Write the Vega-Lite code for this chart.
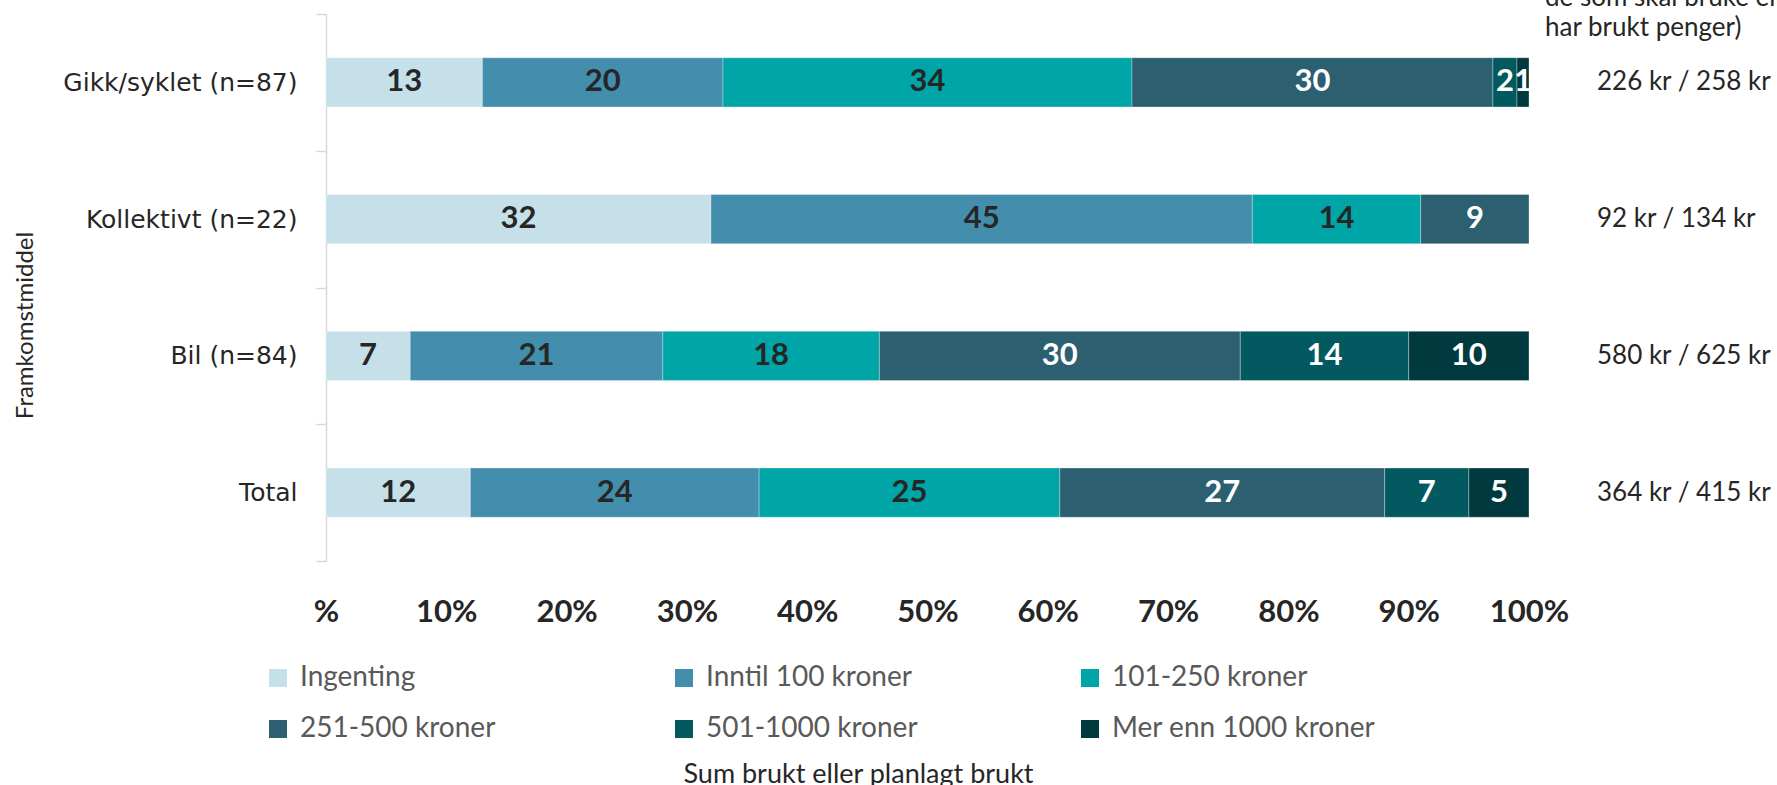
{
  "$schema": "https://vega.github.io/schema/vega-lite/v6.json",
  "width": 1203,
  "height": 547,
  "autosize": "none",
  "padding": {"left": 326, "top": 14, "right": 248, "bottom": 224},
  "background": "white",
  "config": {"view": {"stroke": null}},
  "layer": [
    {
      "data": {"name": "main", "values": [
        {"gruppe": "Gikk/syklet (n=87)", "kat": "Ingenting", "ord": 1, "pct": 13},
        {"gruppe": "Gikk/syklet (n=87)", "kat": "Inntil 100 kroner", "ord": 2, "pct": 20},
        {"gruppe": "Gikk/syklet (n=87)", "kat": "101-250 kroner", "ord": 3, "pct": 34},
        {"gruppe": "Gikk/syklet (n=87)", "kat": "251-500 kroner", "ord": 4, "pct": 30},
        {"gruppe": "Gikk/syklet (n=87)", "kat": "501-1000 kroner", "ord": 5, "pct": 2},
        {"gruppe": "Gikk/syklet (n=87)", "kat": "Mer enn 1000 kroner", "ord": 6, "pct": 1},
        {"gruppe": "Kollektivt (n=22)", "kat": "Ingenting", "ord": 1, "pct": 32},
        {"gruppe": "Kollektivt (n=22)", "kat": "Inntil 100 kroner", "ord": 2, "pct": 45},
        {"gruppe": "Kollektivt (n=22)", "kat": "101-250 kroner", "ord": 3, "pct": 14},
        {"gruppe": "Kollektivt (n=22)", "kat": "251-500 kroner", "ord": 4, "pct": 9},
        {"gruppe": "Bil (n=84)", "kat": "Ingenting", "ord": 1, "pct": 7},
        {"gruppe": "Bil (n=84)", "kat": "Inntil 100 kroner", "ord": 2, "pct": 21},
        {"gruppe": "Bil (n=84)", "kat": "101-250 kroner", "ord": 3, "pct": 18},
        {"gruppe": "Bil (n=84)", "kat": "251-500 kroner", "ord": 4, "pct": 30},
        {"gruppe": "Bil (n=84)", "kat": "501-1000 kroner", "ord": 5, "pct": 14},
        {"gruppe": "Bil (n=84)", "kat": "Mer enn 1000 kroner", "ord": 6, "pct": 10},
        {"gruppe": "Total", "kat": "Ingenting", "ord": 1, "pct": 12},
        {"gruppe": "Total", "kat": "Inntil 100 kroner", "ord": 2, "pct": 24},
        {"gruppe": "Total", "kat": "101-250 kroner", "ord": 3, "pct": 25},
        {"gruppe": "Total", "kat": "251-500 kroner", "ord": 4, "pct": 27},
        {"gruppe": "Total", "kat": "501-1000 kroner", "ord": 5, "pct": 7},
        {"gruppe": "Total", "kat": "Mer enn 1000 kroner", "ord": 6, "pct": 5}
      ]},
      "mark": {"type": "bar", "height": {"band": 0.36}, "stroke": "#ffffff", "strokeWidth": 0.6, "strokeOpacity": 0.5},
      "encoding": {
        "x": {
          "field": "pct", "type": "quantitative", "stack": "zero",
          "scale": {"domain": [0, 100], "nice": false},
          "axis": {
            "title": "Sum brukt eller planlagt brukt",
            "titleX": 532, "titleY": 200, "titleBaseline": "top", "titleAlign": "center",
            "titleFont": "Lato", "titleFontSize": 27, "titleFontWeight": "normal", "titleColor": "#262626",
            "domain": false, "ticks": false, "grid": false,
            "values": [0, 10, 20, 30, 40, 50, 60, 70, 80, 90, 100],
            "labelExpr": "datum.value == 0 ? '%' : datum.value + '%'",
            "labelFont": "Lato", "labelFontSize": 31, "labelFontWeight": "bold", "labelColor": "#262626",
            "labelPadding": 36, "labelFlush": false
          }
        },
        "y": {
          "field": "gruppe", "type": "nominal",
          "sort": ["Gikk/syklet (n=87)", "Kollektivt (n=22)", "Bil (n=84)", "Total"],
          "scale": {"paddingInner": 0, "paddingOuter": 0},
          "axis": {
            "title": "Framkomstmiddel",
            "titleX": -301, "titleY": 311, "titleAngle": 270, "titleAlign": "center", "titleBaseline": "middle",
            "titleFont": "Lato", "titleFontSize": 24, "titleFontWeight": "normal", "titleColor": "#262626",
            "domainColor": "#d9d9d9", "domainWidth": 1.5,
            "tickColor": "#d9d9d9", "tickWidth": 1.5, "tickSize": 10, "tickBand": "extent",
            "labelFont": "DejaVu Sans", "labelFontSize": 25, "labelColor": "#262626", "labelPadding": 19, "labelLimit": 400
          }
        },
        "color": {
          "field": "kat", "type": "nominal",
          "scale": {
            "domain": ["Ingenting", "Inntil 100 kroner", "101-250 kroner", "251-500 kroner", "501-1000 kroner", "Mer enn 1000 kroner"],
            "range": ["#c6e0ea", "#438eac", "#00a5a8", "#2c5f70", "#025a60", "#003a3f"]
          },
          "legend": {
            "title": null, "orient": "none", "legendX": -62, "legendY": 650,
            "columns": 3, "direction": "horizontal", "gridAlign": "all",
            "symbolType": "square", "symbolSize": 324, "symbolStrokeWidth": 0,
            "labelFont": "Lato", "labelFontSize": 28, "labelColor": "#595959", "labelOffset": 8,
            "columnPadding": 106, "rowPadding": 23, "labelLimit": 400
          }
        },
        "order": {"field": "ord", "type": "quantitative"}
      }
    },
    {
      "data": {"name": "main"},
      "mark": {"type": "text", "font": "Lato", "fontSize": 31, "fontWeight": "bold", "baseline": "middle", "align": "center"},
      "encoding": {
        "x": {"field": "pct", "type": "quantitative", "stack": "zero", "bandPosition": 0.5},
        "y": {"field": "gruppe", "type": "nominal", "sort": ["Gikk/syklet (n=87)", "Kollektivt (n=22)", "Bil (n=84)", "Total"]},
        "text": {"field": "pct", "type": "quantitative"},
        "order": {"field": "ord", "type": "quantitative"},
        "color": {
          "condition": {"test": "indexof(['251-500 kroner','501-1000 kroner','Mer enn 1000 kroner'], datum.kat) >= 0", "value": "#ffffff"},
          "value": "#262626"
        }
      }
    },
    {
      "data": {"values": [
        {"gruppe": "Gikk/syklet (n=87)", "snitt": "226 kr / 258 kr"},
        {"gruppe": "Kollektivt (n=22)", "snitt": "92 kr / 134 kr"},
        {"gruppe": "Bil (n=84)", "snitt": "580 kr / 625 kr"},
        {"gruppe": "Total", "snitt": "364 kr / 415 kr"}
      ]},
      "mark": {"type": "text", "font": "Lato", "fontSize": 26, "color": "#262626", "align": "left", "baseline": "middle", "dx": 68},
      "encoding": {
        "x": {"datum": 100, "type": "quantitative"},
        "y": {"field": "gruppe", "type": "nominal", "sort": ["Gikk/syklet (n=87)", "Kollektivt (n=22)", "Bil (n=84)", "Total"]},
        "text": {"field": "snitt"}
      }
    },
    {
      "data": {"values": [
        {"gruppe": "Gikk/syklet (n=87)", "tekst": "Gjennomsnitt (alle /|de som skal bruke eller|har brukt penger)"}
      ]},
      "mark": {"type": "text", "font": "Lato", "fontSize": 26, "color": "#262626", "align": "left", "baseline": "bottom", "lineBreak": "|", "lineHeight": 30, "dx": 16, "dy": -101},
      "encoding": {
        "x": {"datum": 100, "type": "quantitative"},
        "y": {"field": "gruppe", "type": "nominal", "sort": ["Gikk/syklet (n=87)", "Kollektivt (n=22)", "Bil (n=84)", "Total"]},
        "text": {"field": "tekst"}
      }
    }
  ]
}
